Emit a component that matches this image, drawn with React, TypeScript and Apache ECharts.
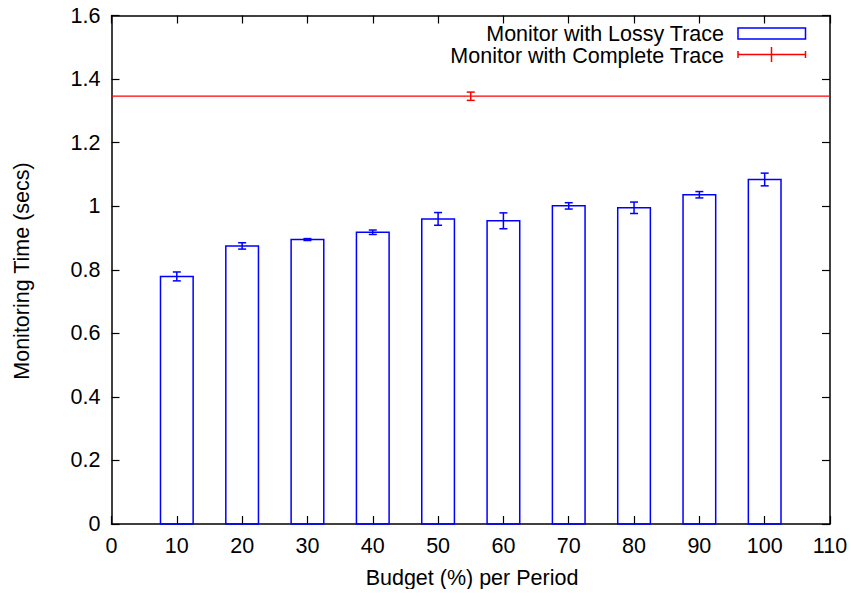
import React, { useEffect, useRef } from "react";
import * as echarts from "echarts";

const budgets = [10, 20, 30, 40, 50, 60, 70, 80, 90, 100];
const lossyTimes = [0.779, 0.875, 0.895, 0.918, 0.960, 0.954, 1.001, 0.995, 1.036, 1.084];
const lossyErrors = [0.014, 0.010, 0.003, 0.007, 0.020, 0.025, 0.010, 0.018, 0.010, 0.020];
const completeX = 55;
const completeTime = 1.346;
const completeError = 0.013;
const xTicks = [0, 10, 20, 30, 40, 50, 60, 70, 80, 90, 100, 110];
const yTicks = [0, 0.2, 0.4, 0.6, 0.8, 1, 1.2, 1.4, 1.6];

const FONT = "Liberation Sans, Arial, Helvetica, sans-serif";
const FS = 21.5;
const BLUE = "#0000ff";
const RED = "#ff0000";
const BAR_HALF = 2.5;

export default function App() {
  const ref = useRef<HTMLDivElement>(null);
  useEffect(() => {
    if (!ref.current) return;
    const chart = echarts.init(ref.current, null, { renderer: "svg" });
    const axisCommon = {
      axisLine: { show: true, onZero: false, lineStyle: { color: "#000", width: 1.5 } },
      axisTick: { show: true, inside: true, length: 8, lineStyle: { color: "#000", width: 1.2 } },
      splitLine: { show: false },
    };
    const xMin = xTicks[0];
    const xMax = xTicks[xTicks.length - 1];
    const option: any = {
      animation: false,
      backgroundColor: "#fff",
      grid: { left: 111.5, right: 27, top: 15.5, bottom: 73, containLabel: false },
      xAxis: [
        {
          type: "value",
          min: xMin,
          max: xMax,
          interval: 10,
          ...axisCommon,
          axisLabel: { color: "#000", fontFamily: FONT, fontSize: FS, margin: 11 },
        },
        {
          type: "value",
          position: "top",
          min: xMin,
          max: xMax,
          interval: 10,
          ...axisCommon,
          axisLabel: { show: false },
        },
      ],
      yAxis: [
        {
          type: "value",
          position: "left",
          min: yTicks[0],
          max: yTicks[yTicks.length - 1],
          interval: 0.2,
          ...axisCommon,
          axisLabel: { color: "#000", fontFamily: FONT, fontSize: FS, margin: 11 },
        },
        {
          type: "value",
          position: "right",
          min: yTicks[0],
          max: yTicks[yTicks.length - 1],
          interval: 0.2,
          ...axisCommon,
          axisLabel: { show: false },
        },
      ],
      series: [
        {
          type: "custom",
          name: "Monitor with Lossy Trace",
          xAxisIndex: 0,
          yAxisIndex: 0,
          data: budgets.map((b, i) => [b, lossyTimes[i], lossyErrors[i]]),
          renderItem: (params: any, api: any) => {
            const x = api.value(0);
            const y = api.value(1);
            const e = api.value(2);
            const p0 = api.coord([x - BAR_HALF, 0]);
            const p1 = api.coord([x + BAR_HALF, y]);
            const top = api.coord([x, y + e]);
            const bot = api.coord([x, y - e]);
            const cap = 4;
            const ls = { stroke: BLUE, lineWidth: 1.5, fill: null };
            return {
              type: "group",
              children: [
                {
                  type: "rect",
                  shape: { x: p0[0], y: p1[1], width: p1[0] - p0[0], height: p0[1] - p1[1] },
                  style: { fill: "none", stroke: BLUE, lineWidth: 1.5 },
                },
                { type: "line", shape: { x1: top[0], y1: top[1], x2: bot[0], y2: bot[1] }, style: ls },
                { type: "line", shape: { x1: top[0] - cap, y1: top[1], x2: top[0] + cap, y2: top[1] }, style: ls },
                { type: "line", shape: { x1: bot[0] - cap, y1: bot[1], x2: bot[0] + cap, y2: bot[1] }, style: ls },
              ],
            };
          },
          z: 3,
        },
        {
          type: "line",
          name: "Complete Trace level",
          xAxisIndex: 0,
          yAxisIndex: 0,
          data: [
            [xMin, completeTime],
            [xMax, completeTime],
          ],
          symbol: "none",
          lineStyle: { color: RED, width: 1.3 },
          itemStyle: { color: RED },
          silent: true,
          z: 4,
        },
        {
          type: "custom",
          name: "Monitor with Complete Trace",
          xAxisIndex: 0,
          yAxisIndex: 0,
          data: [[completeX, completeTime, completeError]],
          renderItem: (params: any, api: any) => {
            const x = api.value(0);
            const y = api.value(1);
            const e = api.value(2);
            const top = api.coord([x, y + e]);
            const bot = api.coord([x, y - e]);
            const cap = 4;
            const ls = { stroke: RED, lineWidth: 1.5, fill: null };
            return {
              type: "group",
              children: [
                { type: "line", shape: { x1: top[0], y1: top[1], x2: bot[0], y2: bot[1] }, style: ls },
                { type: "line", shape: { x1: top[0] - cap, y1: top[1], x2: top[0] + cap, y2: top[1] }, style: ls },
                { type: "line", shape: { x1: bot[0] - cap, y1: bot[1], x2: bot[0] + cap, y2: bot[1] }, style: ls },
              ],
            };
          },
          z: 5,
        },
      ],
      graphic: [
        {
          type: "text",
          x: 472,
          y: 578,
          style: {
            text: "Budget (%) per Period",
            font: `${FS}px ${FONT}`,
            fill: "#000",
            align: "center",
            verticalAlign: "middle",
          },
        },
        {
          type: "text",
          x: 22,
          y: 271,
          rotation: Math.PI / 2,
          style: {
            text: "Monitoring Time (secs)",
            font: `${FS}px ${FONT}`,
            fill: "#000",
            align: "center",
            verticalAlign: "middle",
          },
        },
        {
          type: "text",
          x: 724,
          y: 33.5,
          style: {
            text: "Monitor with Lossy Trace",
            font: `${FS}px ${FONT}`,
            lineHeight: 19,
            fill: "#000",
            align: "right",
            verticalAlign: "middle",
          },
        },
        {
          type: "rect",
          shape: { x: 738, y: 28, width: 67.5, height: 11 },
          style: { fill: "none", stroke: BLUE, lineWidth: 1.5 },
        },
        {
          type: "text",
          x: 724,
          y: 55.5,
          style: {
            text: "Monitor with Complete Trace",
            font: `${FS}px ${FONT}`,
            lineHeight: 19,
            fill: "#000",
            align: "right",
            verticalAlign: "middle",
          },
        },
        { type: "line", shape: { x1: 738, y1: 54.5, x2: 805.5, y2: 54.5 }, style: { stroke: RED, lineWidth: 1.5 } },
        { type: "line", shape: { x1: 738, y1: 51, x2: 738, y2: 58 }, style: { stroke: RED, lineWidth: 1.5 } },
        { type: "line", shape: { x1: 805.5, y1: 51, x2: 805.5, y2: 58 }, style: { stroke: RED, lineWidth: 1.5 } },
        { type: "line", shape: { x1: 771.5, y1: 47, x2: 771.5, y2: 62 }, style: { stroke: RED, lineWidth: 1.5 } },
      ],
    };
    chart.setOption(option);
    return () => chart.dispose();
  }, []);
  return <div ref={ref} style={{ width: 857, height: 597, margin: -8 }} />;
}
